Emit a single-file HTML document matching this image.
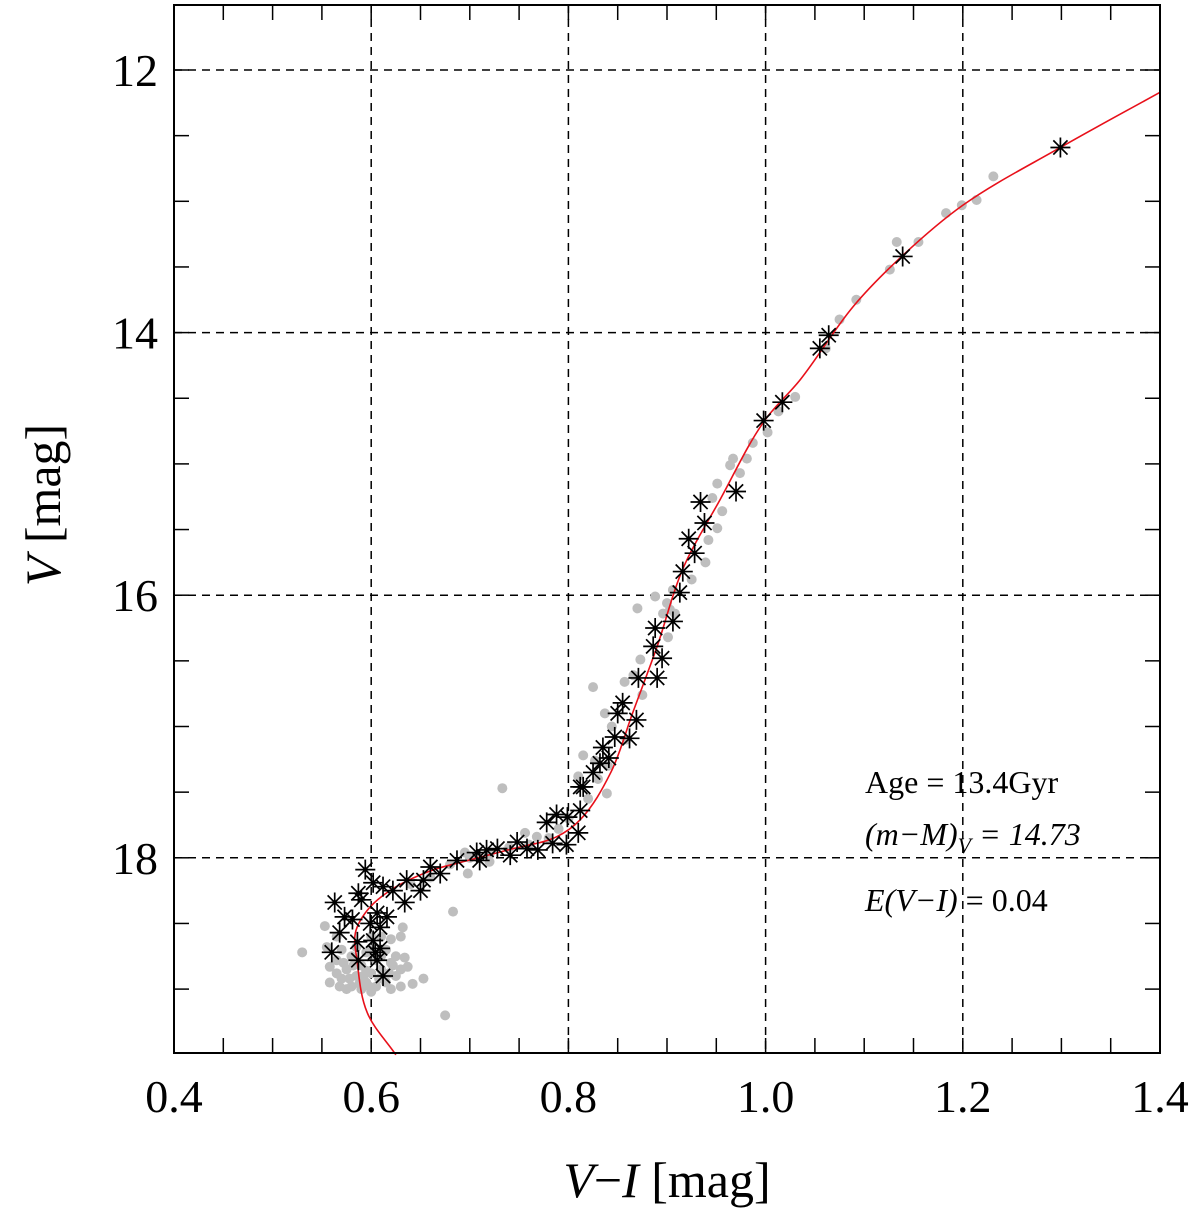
<!DOCTYPE html>
<html><head><meta charset="utf-8"><style>
html,body{margin:0;padding:0;background:#fff;}
svg{display:block;font-family:"Liberation Serif",serif;}
</style></head><body>
<svg id="chart" width="1200" height="1220" viewBox="0 0 1200 1220" xmlns="http://www.w3.org/2000/svg">
<g id="grid"></g>
<g id="gray"></g>
<path id="iso" fill="none" stroke="#e8101a" stroke-width="1.6"/>
<g id="stars"></g>
<g id="ticks"></g>
<rect x="174" y="5" width="986" height="1048" fill="none" stroke="#000" stroke-width="2"/>
<g id="labels" font-size="46"></g>
<text x="667" y="1197" font-size="50" text-anchor="middle"><tspan font-style="italic">V</tspan>−<tspan font-style="italic">I</tspan> [mag]</text>
<text transform="translate(60,505) rotate(-90)" font-size="50" text-anchor="middle"><tspan font-style="italic">V</tspan> [mag]</text>
<g font-size="32">
<text x="865" y="793">Age = 13.4Gyr</text>
<text x="865" y="845" font-style="italic">(m−M)<tspan font-size="22" dy="8">V</tspan><tspan dy="-8"> = 14.73</tspan></text>
<text x="865" y="911"><tspan font-style="italic">E(V−I)</tspan> = 0.04</text>
</g>
</svg>
<script>
const xTicks=[0.4,0.6,0.8,1.0,1.2,1.4];
const xTickLabels=["0.4","0.6","0.8","1.0","1.2","1.4"];
const yTicks=[12,14,16,18];
const yTickLabels=["12","14","16","18"];
const isoX=[1.4,1.299,1.200,1.138,1.089,1.035,0.999,0.954,0.916,0.890,0.865,0.843,0.812,0.788,0.744,0.693,0.66,0.619,0.596,0.584,0.5856,0.596,0.625];
const isoV=[12.17,12.59,13.03,13.42,13.80,14.36,14.67,15.27,15.80,16.39,16.9,17.35,17.71,17.84,17.93,18.03,18.1,18.25,18.40,18.57,18.78,19.18,19.5];
const starX=[1.299,1.139,1.064,1.055,1.017,0.998,0.970,0.934,0.938,0.922,0.928,0.916,0.913,0.906,0.888,0.886,0.895,0.871,0.890,0.855,0.850,0.869,0.847,0.862,0.835,0.841,0.825,0.812,0.810,0.798,0.778,0.788,0.799,0.812,0.815,0.832,0.784,0.769,0.758,0.748,0.741,0.728,0.717,0.707,0.710,0.687,0.670,0.660,0.653,0.650,0.636,0.634,0.622,0.612,0.594,0.602,0.587,0.590,0.563,0.573,0.581,0.606,0.616,0.599,0.609,0.568,0.586,0.602,0.609,0.560,0.604,0.587,0.606,0.612];
const starV=[12.59,13.42,14.02,14.12,14.53,14.67,15.21,15.29,15.45,15.57,15.68,15.82,15.98,16.20,16.25,16.39,16.48,16.63,16.63,16.82,16.90,16.95,17.08,17.09,17.16,17.24,17.35,17.46,17.81,17.90,17.73,17.67,17.69,17.64,17.46,17.28,17.89,17.94,17.93,17.88,17.98,17.93,17.94,17.96,18.02,18.02,18.12,18.07,18.17,18.25,18.17,18.34,18.25,18.22,18.09,18.19,18.27,18.32,18.34,18.45,18.47,18.42,18.45,18.50,18.53,18.57,18.64,18.63,18.69,18.72,18.72,18.78,18.78,18.90];
const grayX=[1.231,1.214,1.199,1.183,1.133,1.126,1.155,1.092,1.075,1.061,1.030,1.013,1.002,0.987,0.967,0.964,0.981,0.974,0.951,0.946,0.956,0.951,0.942,0.939,0.925,0.906,0.888,0.870,0.900,0.903,0.908,0.896,0.901,0.873,0.857,0.825,0.866,0.875,0.837,0.844,0.815,0.810,0.839,0.827,0.859,0.733,0.756,0.768,0.720,0.698,0.695,0.683,0.675,0.530,0.553,0.632,0.653,0.642,0.637,0.634,0.558,0.568,0.555,0.558,0.565,0.575,0.585,0.595,0.605,0.615,0.625,0.63,0.62,0.61,0.6,0.59,0.58,0.57,0.6,0.615,0.625,0.59,0.6,0.62,0.63,0.58,0.57,0.565,0.6,0.61,0.62,0.63,0.64,0.66,0.68,0.70,0.72,0.74,0.76,0.78,0.79,0.80,0.82,0.83,0.84,0.572,0.582,0.592,0.612,0.622,0.578,0.588,0.598,0.608,0.618,0.575,0.595,0.61,0.585,0.605,0.565,0.595];
const grayV=[12.81,12.99,13.03,13.09,13.31,13.52,13.31,13.75,13.90,14.12,14.49,14.60,14.76,14.84,14.96,15.01,14.96,15.07,15.15,15.26,15.36,15.49,15.58,15.75,15.88,15.96,16.01,16.10,16.06,16.11,16.14,16.14,16.32,16.49,16.66,16.70,16.61,16.76,16.90,17.00,17.22,17.38,17.51,17.26,17.10,17.47,17.81,17.84,18.03,18.12,17.96,18.41,19.20,18.72,18.52,18.53,18.92,18.96,18.83,18.76,18.95,18.98,18.68,18.83,18.78,18.85,18.9,18.95,18.98,18.95,18.9,18.85,18.8,18.85,18.88,18.82,18.75,18.7,18.7,18.7,18.75,19.0,19.02,19.0,18.98,18.98,18.92,18.6,18.6,18.6,18.62,18.6,18.2,18.15,18.05,18.0,17.97,17.92,17.9,17.85,17.78,17.7,17.55,17.4,17.3,18.8,18.82,18.9,18.9,18.82,18.92,18.96,18.98,18.92,18.88,19.0,18.86,18.75,18.68,18.78,18.88,18.72];

const L=174,R=1160,T=5,B=1053;
function sx(v){return L+(v-0.4)*986;}
function sy(v){return 70+(v-12)*131.3;}
const NS="http://www.w3.org/2000/svg";
function mk(tag,attrs,parent){const e=document.createElementNS(NS,tag);for(const k in attrs)e.setAttribute(k,attrs[k]);parent.appendChild(e);return e;}
const grid=document.getElementById('grid');
[0.6,0.8,1.0,1.2].forEach(v=>{const l=mk('line',{x1:sx(v),x2:sx(v),y1:T,y2:B,stroke:'#000','stroke-width':1.5,'stroke-dasharray':'8,6'},grid);

});
yTicks.forEach(v=>{const l=mk('line',{x1:L,x2:R,y1:sy(v),y2:sy(v),stroke:'#000','stroke-width':1.5,'stroke-dasharray':'8,6'},grid);

});
const ticks=document.getElementById('ticks');
for(let i=0;i<=20;i++){const v=0.4+i*0.05,x=sx(v);
const a=mk('line',{x1:x,x2:x,y1:B,y2:B-15,stroke:'#000','stroke-width':1.5},ticks);


const b=mk('line',{x1:x,x2:x,y1:T,y2:T+15,stroke:'#000','stroke-width':1.5},ticks);

}
for(let v=11.5;v<=19.5;v+=0.5){const y=sy(v);if(y<T||y>B)continue;
const a=mk('line',{x1:L,x2:L+15,y1:y,y2:y,stroke:'#000','stroke-width':1.5},ticks);


const b=mk('line',{x1:R,x2:R-15,y1:y,y2:y,stroke:'#000','stroke-width':1.5},ticks);

}
const labels=document.getElementById('labels');
xTicks.forEach((v,i)=>{const t=mk('text',{x:sx(v),y:1112,'text-anchor':'middle'},labels);t.textContent=xTickLabels[i];

});
yTicks.forEach((v,i)=>{const t=mk('text',{x:158,y:sy(v)+16,'text-anchor':'end'},labels);t.textContent=yTickLabels[i];

});
const gray=document.getElementById('gray');
grayX.forEach((v,i)=>{const c=mk('circle',{cx:sx(v),cy:sy(grayV[i]),r:5,fill:'#bebebe'},gray);

});
(function(){const p=isoX.map((v,i)=>[sx(v),sy(isoV[i])]);const n=p.length;
const dist=(a,b)=>Math.hypot(a[0]-b[0],a[1]-b[1]);
const tan=[];
for(let i=0;i<n;i++){let ux=0,uy=0;
if(i>0){const d=dist(p[i],p[i-1]);ux+=(p[i][0]-p[i-1][0])/d;uy+=(p[i][1]-p[i-1][1])/d;}
if(i<n-1){const d=dist(p[i+1],p[i]);ux+=(p[i+1][0]-p[i][0])/d;uy+=(p[i+1][1]-p[i][1])/d;}
const m=Math.hypot(ux,uy)||1;tan.push([ux/m,uy/m]);}
let d='M'+p[0][0]+','+p[0][1];
for(let i=0;i<n-1;i++){const s=dist(p[i],p[i+1])/3;
d+=' C'+(p[i][0]+tan[i][0]*s)+','+(p[i][1]+tan[i][1]*s)+' '+(p[i+1][0]-tan[i+1][0]*s)+','+(p[i+1][1]-tan[i+1][1]*s)+' '+p[i+1][0]+','+p[i+1][1];}
document.getElementById('iso').setAttribute('d',d);})();
const stars=document.getElementById('stars');
starX.forEach((v,i)=>{const x=sx(v),y=sy(starV[i]),s=10,q=7.1;
const g=mk('path',{d:`M${x-s},${y}L${x+s},${y}M${x},${y-s}L${x},${y+s}M${x-q},${y-q}L${x+q},${y+q}M${x-q},${y+q}L${x+q},${y-q}`,stroke:'#000','stroke-width':1.7,fill:'none'},stars);

});
</script>
</body></html>
